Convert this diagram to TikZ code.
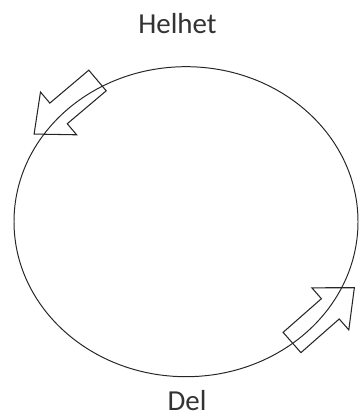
\documentclass[tikz,border=0pt]{standalone}
\usepackage{fontspec}
\setmainfont{Carlito}
\usetikzlibrary{positioning}

\begin{document}
\begin{tikzpicture}[
  x=0.025cm, y=0.025cm,
  font=\fontsize{20.6}{24}\selectfont,
  label/.style={text=black!80, inner sep=0pt, anchor=base},
  ring/.style={draw=black!85, line width=0.7pt},
  hollow arrow/.pic={
    \draw[black!85, line width=0.75pt, line join=miter]
      (0,-13.5) -- (51,-13.5) -- (51,-28) -- (83,0) -- (51,28) -- (51,13.5) -- (0,13.5) -- cycle;
  }
]
  \useasboundingbox (0,0) rectangle (359,419);

  \draw[ring] (186,197.3) ellipse [x radius=172, y radius=155];

  \node[label] (whole) at (177.5,385) {Helhet};
  \node[label] (part) at (187,8) {Del};

  \pic[rotate=220.2] at (97.5,338.5) {hollow arrow};
  \pic[rotate=41.3] at (292,76.5) {hollow arrow};
\end{tikzpicture}
\end{document}
